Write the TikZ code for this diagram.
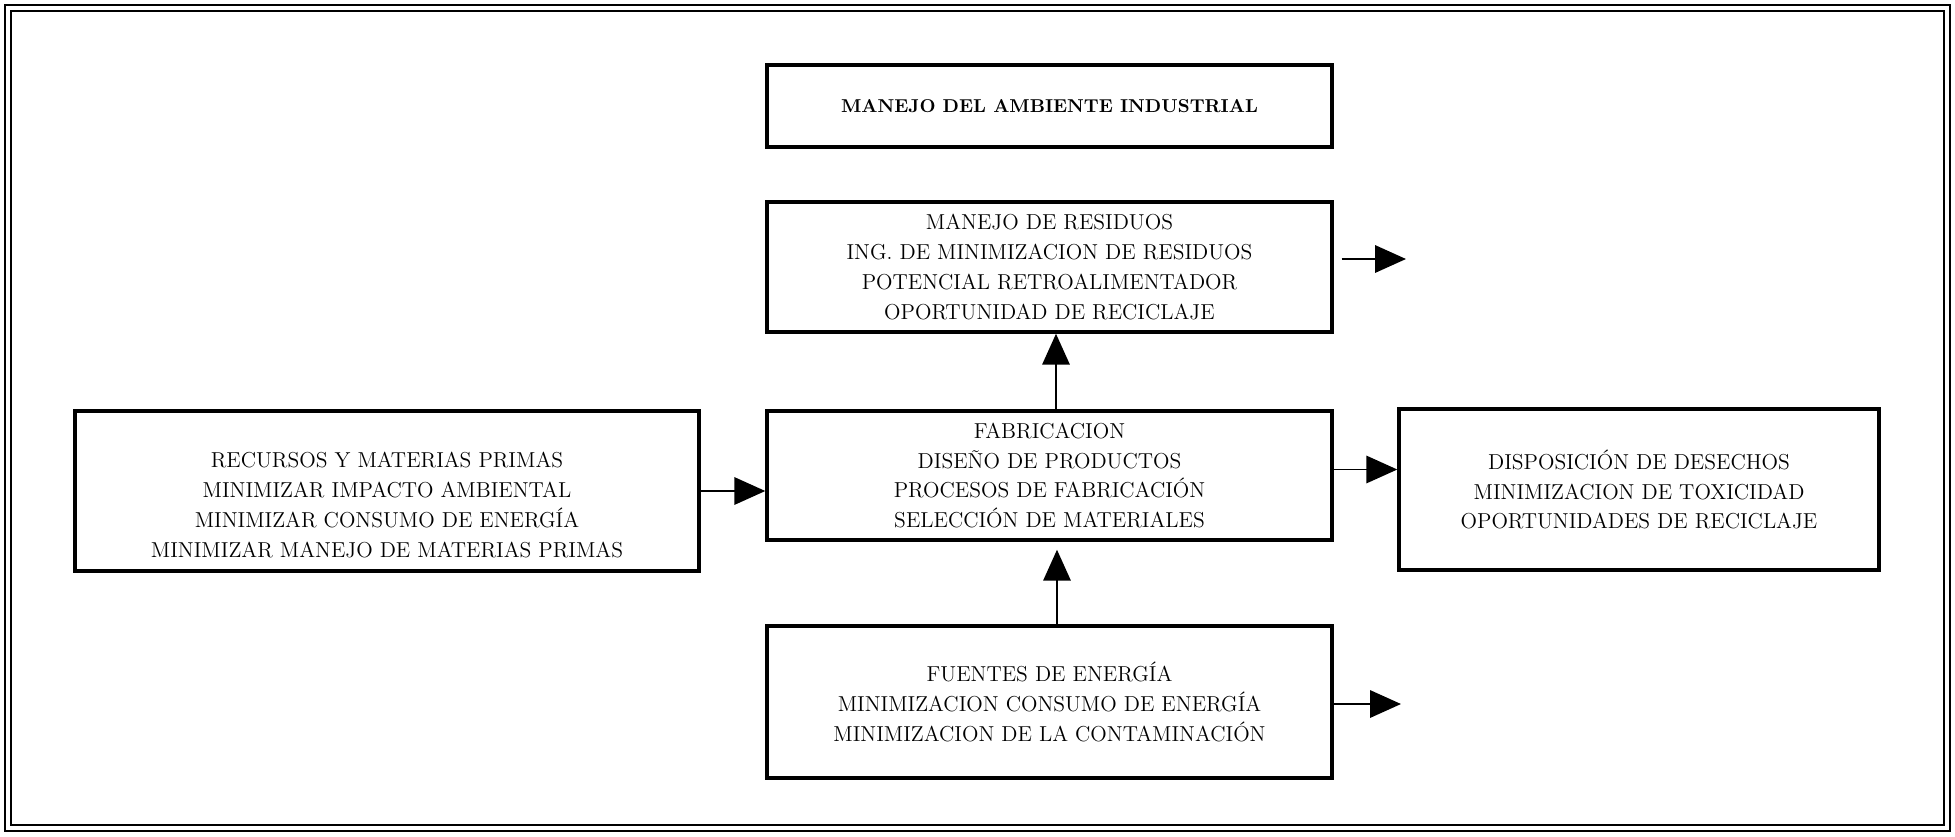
\documentclass[tikz,border=0pt]{standalone}
\usepackage{fontspec}
\usetikzlibrary{arrows.meta}
\tikzset{
  panel/.style={draw, line width=2pt, minimum width=11.3cm, align=center,
    font=\fontsize{12.3pt}{17pt}\selectfont},
  flow/.style={line width=1pt, -{Triangle[length=0.62cm, width=0.55cm]}},
}

\begin{document}
\begin{tikzpicture}[x=0.02cm, y=-0.02cm]
  \useasboundingbox (0,0) rectangle (1955,836);
  \draw[line width=1.6pt] (5,5) rectangle (1950,831);
  \draw[line width=0.7pt] (11,11) rectangle (1944,825);

  \node[panel, minimum height=1.64cm, font=\fontsize{10.6pt}{12pt}\selectfont\bfseries]
    (titulo) at (1049.5,106) {MANEJO DEL AMBIENTE INDUSTRIAL};
  \node[panel, minimum height=2.6cm] (residuos) at (1049.5,267)
    {MANEJO DE RESIDUOS\\ ING. DE MINIMIZACION DE RESIDUOS\\
     POTENCIAL RETROALIMENTADOR\\ OPORTUNIDAD DE RECICLAJE};
  \node[panel, minimum height=2.58cm] (fab) at (1049.5,475.5)
    {FABRICACION\\ DISEÑO DE PRODUCTOS\\
     PROCESOS DE FABRICACIÓN\\ SELECCIÓN DE MATERIALES};
  \node[panel, minimum width=12.48cm, minimum height=3.2cm] (recursos) at (387,491) {};
  \node[panel, draw=none] (recursostxt) at ([yshift=-0.28cm]recursos.center)
    {RECURSOS Y MATERIAS PRIMAS\\ MINIMIZAR IMPACTO AMBIENTAL\\
     MINIMIZAR CONSUMO DE ENERGÍA\\ MINIMIZAR MANEJO DE MATERIAS PRIMAS};
  \node[panel, minimum width=9.6cm, minimum height=3.22cm] (desechos) at (1639,489.5)
    {DISPOSICIÓN DE DESECHOS\\ MINIMIZACION DE TOXICIDAD\\ OPORTUNIDADES DE RECICLAJE};
  \node[panel, minimum height=3.04cm] (energia) at (1049.5,702)
    {FUENTES DE ENERGÍA\\ MINIMIZACION CONSUMO DE ENERGÍA\\
     MINIMIZACION DE LA CONTAMINACIÓN};

  \coordinate (resout) at (1406,259);
  \coordinate (enout) at (1401,704);
  \draw[flow, shorten <=0.16cm] (residuos.east |- resout) -- (resout);
  \draw[flow] ([xshift=0.13cm]fab.north) -- ([xshift=0.13cm]residuos.south);
  \draw[flow] (recursos.east) -- (recursos.east -| fab.west);
  \draw[flow] ([yshift=0.12cm]fab.east) -- ([yshift=0.12cm]fab.east -| desechos.west);
  \draw[flow, shorten >=0.16cm] ([xshift=0.15cm]energia.north) -- ([xshift=0.15cm]fab.south);
  \draw[flow] (energia.east |- enout) -- (enout);
\end{tikzpicture}
\end{document}
